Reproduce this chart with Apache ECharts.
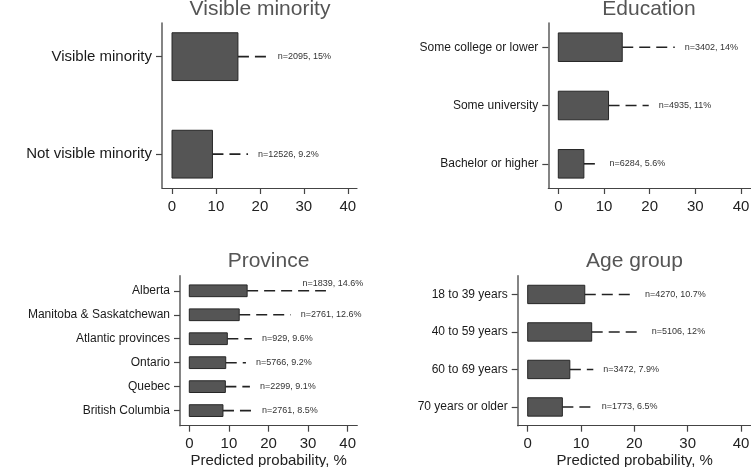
<!DOCTYPE html>
<html><head><meta charset="utf-8">
<script src="https://cdn.jsdelivr.net/npm/echarts@6/dist/echarts.min.js"></script>
<style>html,body{margin:0;padding:0;background:#fff}#c{width:751px;height:467px}</style>
</head><body><div id="c"></div>
<script>
// ---- data ----
const minorityCats  = ['Visible minority', 'Not visible minority'];
const minorityPct   = [15, 9.2];
const minorityUpper = [21.8, 17.3];
const minorityN     = [2095, 12526];

const eduCats  = ['Some college or lower', 'Some university', 'Bachelor or higher'];
const eduPct   = [14, 11, 5.6];
const eduUpper = [25.5, 19.8, 9.0];
const eduN     = [3402, 4935, 6284];

const provCats  = ['Alberta', 'Manitoba & Saskatchewan', 'Atlantic provinces', 'Ontario', 'Quebec', 'British Columbia'];
const provPct   = [14.6, 12.6, 9.6, 9.2, 9.1, 8.5];
const provUpper = [34.5, 25.6, 15.8, 14.3, 15.3, 15.8];
const provN     = [1839, 2761, 929, 5766, 2299, 2761];

const ageCats  = ['18 to 39 years', '40 to 59 years', '60 to 69 years', '70 years or older'];
const agePct   = [10.7, 12, 7.9, 6.5];
const ageUpper = [20.1, 21.4, 12.3, 12.0];
const ageN     = [4270, 5106, 3472, 1773];

const xTicks = [0, 10, 20, 30, 40];
const xName = 'Predicted probability, %';

// ---- layout ----
const FONT = '"Liberation Sans", Arial, Helvetica, sans-serif';
const panels = [
  {title: 'Visible minority', cats: minorityCats, pct: minorityPct, upper: minorityUpper, n: minorityN,
   grid: {left: 162, top: 23, width: 195, height: 165}, xmin: -2.28, xmax: 42.1, ymin: -0.345, ymax: 1.347,
   catFont: 15, titleXY: [260, 9], xname: ''},
  {title: 'Education', cats: eduCats, pct: eduPct, upper: eduUpper, n: eduN,
   grid: {left: 548.3, top: 23, width: 202.2, height: 165}, xmin: -2.19, xmax: 42.08, ymin: -0.415, ymax: 2.415,
   catFont: 12, titleXY: [649, 9], xname: ''},
  {title: 'Province', cats: provCats, pct: provPct, upper: provUpper, n: provN,
   grid: {left: 180, top: 275.7, width: 177.3, height: 150}, xmin: -2.35, xmax: 42.42, ymin: -0.63, ymax: 5.63,
   catFont: 12, titleXY: [268.5, 261.5], xname: xName},
  {title: 'Age group', cats: ageCats, pct: agePct, upper: ageUpper, n: ageN,
   grid: {left: 517.7, top: 275.7, width: 234, height: 150}, xmin: -1.875, xmax: 42.0, ymin: -0.5, ymax: 3.5,
   catFont: 12, titleXY: [634.5, 261.5], xname: xName}
];

const measureCtx = document.createElement('canvas').getContext('2d');
function textWidth(t, size) { measureCtx.font = size + 'px ' + FONT; return measureCtx.measureText(t).width; }

const grids = [], xAxes = [], yAxes = [], series = [], graphics = [];
panels.forEach((p, k) => {
  grids.push(Object.assign({outerBoundsMode: 'none', containLabel: false}, p.grid));
  xAxes.push({
    type: 'value', gridIndex: k, min: p.xmin, max: p.xmax, position: 'bottom',
    axisLine: {show: true, onZero: false, lineStyle: {color: '#444', width: 1.2}},
    axisTick: {show: true, length: 6, customValues: xTicks, lineStyle: {color: '#444', width: 1.2}},
    axisLabel: {customValues: xTicks, margin: 11, fontSize: 15, color: '#222', fontFamily: FONT},
    splitLine: {show: false},
    name: p.xname, nameLocation: 'middle', nameGap: 28,
    nameTextStyle: {fontSize: 15, color: '#222', fontFamily: FONT}
  });
  const idx = p.cats.map((_, i) => i);
  yAxes.push({
    type: 'value', gridIndex: k, inverse: true, min: p.ymin, max: p.ymax, position: 'left',
    axisLine: {show: true, onZero: false, lineStyle: {color: '#666', width: 1.6}},
    axisTick: {show: true, length: 6, customValues: idx, lineStyle: {color: '#444', width: 1.2}},
    axisLabel: {customValues: idx, margin: 10, fontSize: p.catFont, color: '#1a1a1a', fontFamily: FONT,
      formatter: v => p.cats[Math.round(v)] || ''},
    splitLine: {show: false}
  });
  const limit = p.grid.left + p.grid.width + 6;
  const labels = p.pct.map((v, j) => 'n=' + p.n[j] + ', ' + v + '%');
  // upper-CI dashed lines + n labels
  series.push({
    type: 'custom', xAxisIndex: k, yAxisIndex: k, clip: false, z: 2,
    data: p.cats.map((c, i) => [p.pct[i], p.upper[i], i]),
    renderItem: (params, api) => {
      const i = api.value(2);
      const a = api.coord([api.value(0), i]);
      const b = api.coord([api.value(1), i]);
      const txt = labels[params.dataIndex];
      const w = textWidth(txt, 9);
      let tx = b[0] + 10, ty = b[1];
      if (tx + w > limit) { tx = limit - w; ty = b[1] - 7; }
      return {type: 'group', children: [
        {type: 'line', shape: {x1: a[0], y1: a[1], x2: b[0], y2: b[1]},
         style: {stroke: '#222', lineWidth: 1.6, lineDash: [11, 6]}},
        {type: 'text', style: {text: txt, x: tx, y: ty, align: 'left', verticalAlign: 'middle',
         font: '9px ' + FONT, fill: '#333'}}
      ]};
    }
  });
  // bars
  series.push({
    type: 'custom', xAxisIndex: k, yAxisIndex: k, clip: false, z: 3,
    data: p.pct.map((v, i) => [v, i]),
    renderItem: (params, api) => {
      const i = api.value(1);
      const s = api.coord([0, i]);
      const e = api.coord([api.value(0), i]);
      const h = Math.abs(api.size([0, 1])[1]) * 0.49;
      return {type: 'rect', shape: {x: s[0], y: s[1] - h / 2, width: e[0] - s[0], height: h},
        style: {fill: '#555555', stroke: '#262626', lineWidth: 1}};
    }
  });
  graphics.push({type: 'text', x: p.titleXY[0], y: p.titleXY[1],
    style: {text: p.title, align: 'center', verticalAlign: 'middle', font: '21px ' + FONT, fill: '#555'}});
});

const chart = echarts.init(document.getElementById('c'), null, {renderer: 'canvas'});
chart.setOption({
  animation: false, backgroundColor: '#fff',
  grid: grids, xAxis: xAxes, yAxis: yAxes, series: series, graphic: graphics
});
</script></body></html>
